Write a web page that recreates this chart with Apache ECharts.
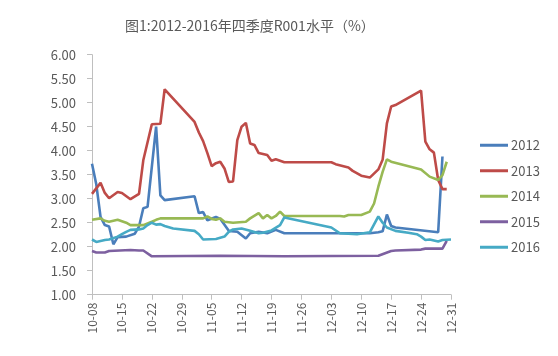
<!DOCTYPE html>
<html>
<head>
<meta charset="utf-8">
<script src="https://cdn.jsdelivr.net/npm/echarts@6/dist/echarts.min.js"></script>
<style>html,body{margin:0;padding:0;background:#fff;}#c{width:558px;height:356px;}</style>
</head>
<body>
<div id="c"></div>
<script>
var titleText = '图1:2012-2016年四季度R001水平（%）';
var octDays = ['10-08','10-09','10-10','10-11','10-12','10-13','10-14','10-15','10-16','10-17','10-18','10-19','10-20','10-21','10-22','10-23','10-24','10-25','10-26','10-27','10-28','10-29','10-30','10-31'];
var novDays = ['11-01','11-02','11-03','11-04','11-05','11-06','11-07','11-08','11-09','11-10','11-11','11-12','11-13','11-14','11-15','11-16','11-17','11-18','11-19','11-20','11-21','11-22','11-23','11-24','11-25','11-26','11-27','11-28','11-29','11-30'];
var decDays = ['12-01','12-02','12-03','12-04','12-05','12-06','12-07','12-08','12-09','12-10','12-11','12-12','12-13','12-14','12-15','12-16','12-17','12-18','12-19','12-20','12-21','12-22','12-23','12-24','12-25','12-26','12-27','12-28','12-29','12-30','12-31'];
var categories = octDays.concat(novDays, decDays);
var seriesNames = ['2012','2013','2014','2015','2016'];
var yTicks = [1,1.5,2,2.5,3,3.5,4,4.5,5,5.5,6];

var s2012 = [['10-08',3.73],['10-09',3.3],['10-10',2.62],['10-11',2.45],['10-12',2.42],['10-13',2.05],['10-14',2.2],['10-16',2.21],['10-18',2.27],['10-19',2.42],['10-20',2.8],['10-21',2.83],['10-23',4.5],['10-24',3.07],['10-25',2.97],['11-01',3.05],['11-02',2.7],['11-03',2.72],['11-04',2.55],['11-06',2.62],['11-07',2.58],['11-09',2.33],['11-11',2.31],['11-13',2.17],['11-14',2.28],['11-16',2.31],['11-18',2.28],['11-20',2.35],['11-22',2.28],['12-12',2.28],['12-14',2.3],['12-15',2.32],['12-16',2.67],['12-17',2.43],['12-18',2.4],['12-28',2.3],['12-29',3.88]];
var s2013 = [['10-08',3.1],['10-10',3.33],['10-11',3.12],['10-12',3.01],['10-14',3.14],['10-15',3.12],['10-17',2.99],['10-19',3.1],['10-20',3.8],['10-22',4.55],['10-24',4.56],['10-25',5.28],['11-01',4.6],['11-02',4.38],['11-03',4.2],['11-04',3.95],['11-05',3.68],['11-06',3.74],['11-07',3.77],['11-08',3.63],['11-09',3.35],['11-10',3.36],['11-11',4.22],['11-12',4.5],['11-13',4.58],['11-14',4.15],['11-15',4.12],['11-16',3.95],['11-17',3.93],['11-18',3.91],['11-19',3.79],['11-20',3.82],['11-22',3.76],['12-03',3.76],['12-04',3.72],['12-07',3.65],['12-08',3.58],['12-10',3.48],['12-12',3.44],['12-14',3.61],['12-15',3.81],['12-16',4.57],['12-17',4.92],['12-18',4.95],['12-24',5.25],['12-25',4.19],['12-26',4.03],['12-27',3.96],['12-28',3.39],['12-29',3.2],['12-30',3.2]];
var s2014 = [['10-08',2.56],['10-10',2.59],['10-11',2.54],['10-12',2.52],['10-14',2.56],['10-16',2.5],['10-17',2.45],['10-20',2.45],['10-22',2.52],['10-23',2.56],['10-24',2.59],['11-03',2.59],['11-04',2.63],['11-05',2.58],['11-06',2.56],['11-07',2.59],['11-08',2.52],['11-10',2.5],['11-13',2.52],['11-14',2.59],['11-16',2.7],['11-17',2.59],['11-18',2.66],['11-19',2.59],['11-20',2.64],['11-21',2.73],['11-22',2.64],['12-05',2.64],['12-06',2.63],['12-07',2.66],['12-10',2.66],['12-12',2.73],['12-13',2.9],['12-14',3.25],['12-15',3.56],['12-16',3.82],['12-17',3.77],['12-24',3.61],['12-26',3.46],['12-28',3.39],['12-29',3.49],['12-30',3.77]];
var s2015 = [['10-08',1.91],['10-09',1.88],['10-11',1.88],['10-12',1.91],['10-17',1.93],['10-19',1.92],['10-20',1.92],['10-22',1.8],['11-07',1.81],['11-22',1.8],['12-14',1.81],['12-17',1.91],['12-18',1.92],['12-24',1.94],['12-25',1.96],['12-29',1.96],['12-30',2.12]];
var s2016 = [['10-08',2.15],['10-09',2.1],['10-11',2.14],['10-12',2.15],['10-14',2.21],['10-15',2.26],['10-16',2.31],['10-17',2.35],['10-19',2.36],['10-20',2.38],['10-21',2.45],['10-22',2.5],['10-23',2.46],['10-24',2.47],['10-25',2.43],['10-27',2.38],['11-01',2.33],['11-02',2.26],['11-03',2.15],['11-06',2.16],['11-08',2.21],['11-09',2.31],['11-10',2.36],['11-12',2.38],['11-14',2.33],['11-16',2.28],['11-17',2.29],['11-19',2.34],['11-21',2.45],['11-22',2.61],['12-03',2.4],['12-05',2.28],['12-09',2.26],['12-12',2.3],['12-14',2.63],['12-15',2.5],['12-16',2.4],['12-18',2.33],['12-21',2.29],['12-23',2.26],['12-24',2.21],['12-25',2.14],['12-26',2.15],['12-28',2.11],['12-29',2.14],['12-31',2.15]];
var allSeries = [s2012, s2013, s2014, s2015, s2016];
var colors = ['#4A7EBB','#BE4B48','#98B954','#7D60A0','#46AAC5'];

var chart = echarts.init(document.getElementById('c'), null, {renderer: 'canvas'});
var txt = '#595959';
chart.setOption({
  animation: false,
  backgroundColor: '#ffffff',
  color: colors,
  title: {
    text: titleText, left: 120, top: 14,
    textStyle: {fontFamily: 'Noto Sans CJK SC', fontSize: 14, fontWeight: 'normal', color: txt}
  },
  legend: {
    orient: 'vertical', left: 475, top: 133,
    icon: 'rect', itemWidth: 28, itemHeight: 3, itemGap: 11,
    textStyle: {fontFamily: 'Noto Sans CJK SC', fontSize: 13, color: txt, lineHeight: 14.5, padding: [0,0,0,-2]},
    data: seriesNames
  },
  grid: {left: 92, right: 107, top: 54.7, bottom: 61.3, containLabel: false},
  xAxis: {
    type: 'category', data: categories, boundaryGap: false,
    axisLine: {lineStyle: {color: '#BFBFBF', width: 1}},
    axisTick: {interval: 6, length: 5, lineStyle: {color: '#BFBFBF'}},
    axisLabel: {interval: 6, rotate: 90, margin: 8, color: txt, fontFamily: 'Noto Sans CJK SC', fontSize: 12},
    splitLine: {show: false}
  },
  yAxis: {
    type: 'value', min: 1, max: 6, interval: 0.5,
    axisLine: {show: true, lineStyle: {color: '#BFBFBF', width: 1}},
    axisTick: {show: true, length: 5, lineStyle: {color: '#BFBFBF'}},
    axisLabel: {margin: 16, color: txt, fontFamily: 'Noto Sans CJK SC', fontSize: 13, formatter: function (v) { return v.toFixed(2); }},
    splitLine: {show: false}
  },
  series: seriesNames.map(function (n, k) {
    return {
      name: n, type: 'line', data: allSeries[k], showSymbol: false, symbol: 'none',
      connectNulls: true, lineStyle: {width: 2.6, color: colors[k]}, itemStyle: {color: colors[k]}
    };
  })
});
</script>
</body>
</html>
